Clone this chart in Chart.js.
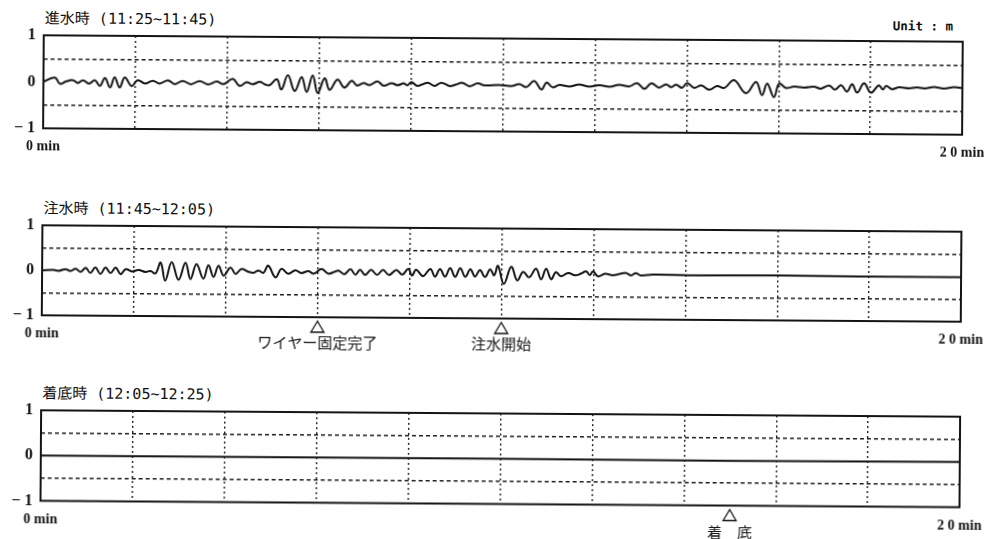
<!DOCTYPE html>
<html><head><meta charset="utf-8">
<script src="https://cdn.jsdelivr.net/npm/chart.js@4.4.1/dist/chart.umd.min.js"></script>
<style>
html,body{margin:0;padding:0;background:#fff;overflow:hidden;width:996px;height:539px;}
#wrap{position:absolute;left:0;top:0;width:996px;height:539px;transform:rotate(0.4deg);transform-origin:0 0;}
canvas{position:absolute;left:0;}
.title{position:absolute;left:45px;font-family:"DejaVu Sans Mono","Noto Sans CJK JP",monospace;font-size:15px;line-height:16px;color:#111;white-space:nowrap;}
.unit{position:absolute;left:893px;top:12px;font-family:"DejaVu Sans Mono",monospace;font-weight:bold;font-size:12.5px;line-height:16px;color:#111;white-space:nowrap;}
</style></head>
<body>
<div id="wrap">
  <div class="title" id="t1" style="top:10px"></div>
  <div class="unit" id="unit"></div>
  <canvas id="c1" width="996" height="175" style="top:0px"></canvas>
  <div class="title" id="t2" style="top:200px"></div>
  <canvas id="c2" width="996" height="175" style="top:190px"></canvas>
  <div class="title" id="t3" style="top:385px"></div>
  <canvas id="c3" width="996" height="164" style="top:375px"></canvas>
</div>
<script>
// ---- text ----
const panelTitles = ["進水時 (11:25~11:45)", "注水時 (11:45~12:05)", "着底時 (12:05~12:25)"];
const unitLabel = "Unit : m";
const xEndLabels = ["0 min", "2 0 min"];
const yLabels = ["1", "0", "− 1"];

// ---- panel 1 : 進水時 (time in min, displacement in m) ----
const p1Time = [
  0, 0.25, 0.36, 0.49, 0.64, 0.75, 0.86, 0.99, 1.12, 1.23,
  1.34, 1.45, 1.55, 1.66, 1.77, 1.92, 2.05, 2.21, 2.38, 2.53,
  2.71, 2.86, 3.03, 3.21, 3.40, 3.58, 3.77, 3.92, 4.12, 4.27,
  4.42, 4.55, 4.71, 4.82, 4.92, 5.08, 5.18, 5.32, 5.47, 5.62,
  5.73, 5.86, 5.97, 6.12, 6.23, 6.40, 6.55, 6.71, 6.82, 6.97,
  7.10, 7.27, 7.40, 7.58, 7.71, 7.84, 7.92, 8.01, 8.14, 8.36,
  8.51, 8.66, 8.84, 8.97, 9.12, 9.27, 9.45, 9.60, 9.92, 10.18,
  10.36, 10.51, 10.68, 10.84, 10.95, 11.08, 11.23, 11.45, 11.66, 11.88,
  12.10, 12.32, 12.53, 12.75, 12.92, 13.08, 13.23, 13.40, 13.55, 13.66,
  13.77, 13.90, 14.01, 14.16, 14.32, 14.49, 14.66, 14.82, 15.03, 15.29,
  15.51, 15.64, 15.75, 15.90, 16.01, 16.16, 16.34, 16.55, 16.77, 16.92,
  17.10, 17.23, 17.36, 17.49, 17.60, 17.71, 17.86, 18.01, 18.18, 18.27,
  18.34, 18.47, 18.62, 18.84, 19.01, 19.18, 19.38, 19.60, 19.82, 20.00
];
const p1Value = [
  0, 0.09, -0.04, 0.01, 0.04, -0.02, 0.04, -0.03, 0.04, -0.08,
  0.09, -0.11, 0.11, -0.11, 0.11, -0.08, 0.05, -0.02, 0.04, -0.02,
  0.05, -0.03, 0.04, -0.03, 0.04, -0.03, 0.03, -0.02, 0.09, -0.06,
  0.02, -0.02, 0.03, -0.02, -0.04, 0.09, -0.13, 0.18, -0.16, 0.14,
  -0.18, 0.18, -0.20, 0.12, -0.13, 0.09, -0.08, 0.07, -0.03, 0.02,
  -0.02, 0.06, -0.03, 0.02, -0.02, 0.02, -0.02, 0.05, -0.03, 0.04,
  -0.03, 0.04, -0.03, 0, 0.04, -0.03, 0.03, -0.01, 0, -0.02,
  0.02, -0.04, 0.09, -0.09, 0.06, -0.04, 0.01, -0.02, 0.02, -0.02,
  0.01, -0.02, 0.02, -0.01, 0.06, -0.06, 0.06, -0.03, 0.04, -0.02,
  0.03, -0.03, 0.07, -0.03, 0.02, -0.07, 0.01, -0.03, 0.14, -0.14,
  0.10, -0.18, 0.07, -0.22, 0.07, -0.02, 0.01, -0.01, 0.01, -0.03,
  0.04, -0.05, 0.05, -0.09, 0.07, -0.11, 0.09, -0.11, 0.05, -0.04,
  0.04, -0.03, 0.01, -0.01, 0.01, -0.01, 0.02, -0.01, 0.02, 0
];

// ---- panel 2 : 注水時 ----
const p2Time = [
  0, 0.25, 0.36, 0.51, 0.62, 0.73, 0.84, 0.95, 1.05, 1.16,
  1.27, 1.38, 1.49, 1.60, 1.71, 1.82, 1.95, 2.10, 2.25, 2.36,
  2.47, 2.58, 2.68, 2.82, 2.97, 3.12, 3.23, 3.36, 3.51, 3.62,
  3.73, 3.84, 3.95, 4.10, 4.21, 4.34, 4.49, 4.60, 4.71, 4.82,
  4.92, 5.08, 5.21, 5.36, 5.51, 5.64, 5.79, 5.92, 6.08, 6.23,
  6.36, 6.45, 6.58, 6.71, 6.82, 6.92, 7.03, 7.16, 7.29, 7.42,
  7.55, 7.71, 7.84, 7.97, 8.05, 8.14, 8.29, 8.45, 8.55, 8.66,
  8.77, 8.88, 8.99, 9.10, 9.21, 9.32, 9.42, 9.53, 9.64, 9.75,
  9.84, 9.92, 10.05, 10.21, 10.34, 10.47, 10.60, 10.75, 10.86, 10.97,
  11.08, 11.18, 11.29, 11.45, 11.60, 11.73, 11.84, 11.92, 11.99, 12.10,
  12.25, 12.42, 12.58, 12.71, 12.82, 12.92, 13.03, 13.29, 14.27, 16.01,
  17.75, 20.00
];
const p2Value = [
  0, 0.01, -0.01, 0.03, -0.01, 0.04, -0.03, 0.06, -0.05, 0.07,
  -0.07, 0.07, -0.05, 0.07, -0.07, 0.04, -0.01, 0.02, -0.02, 0,
  -0.05, 0.19, -0.21, 0.20, -0.19, 0.19, -0.17, 0.16, -0.16, 0.14,
  -0.12, 0.13, -0.09, 0.09, -0.05, 0.06, 0, -0.02, 0.03, -0.02,
  0.14, -0.12, 0.07, -0.04, 0.04, -0.02, 0.02, -0.03, 0.07, -0.03,
  0.01, 0.04, -0.04, 0.07, -0.05, 0.06, -0.05, 0.06, -0.05, 0.06,
  -0.05, 0.06, -0.04, 0.09, -0.06, 0.07, -0.07, 0.09, -0.08, 0.09,
  -0.08, 0.11, -0.08, 0.11, -0.08, 0.09, -0.07, 0.07, -0.08, 0.09,
  -0.04, 0.17, -0.23, 0.15, -0.15, 0.04, -0.08, 0.11, -0.12, 0.11,
  -0.12, 0.04, -0.05, 0.02, -0.03, 0.01, 0.06, -0.02, 0.06, -0.05,
  0.01, -0.02, 0.01, 0.03, -0.02, 0.03, -0.02, 0, -0.01, 0,
  -0.01, -0.01
];
const p2EventLabels = ["ワイヤー固定完了", "注水開始"];
const p2EventTime = [6, 10];

// ---- panel 3 : 着底時 ----
const p3Time = [0, 5, 10, 15, 20];
const p3Value = [0, 0, 0, -0.01, 0];
const p3EventLabels = ["着　底"];
const p3EventTime = [15];

document.getElementById('t1').textContent = panelTitles[0];
document.getElementById('t2').textContent = panelTitles[1];
document.getElementById('t3').textContent = panelTitles[2];
document.getElementById('unit').textContent = unitLabel;

const INK = '#141414';

function makeChart(id, times, values, bottomH, evLabels, evTimes, evTextOffset) {
  const pts = times.map((t, i) => ({ x: t, y: values[i] }));
  const framePlugin = {
    id: 'frame',
    afterDatasetsDraw(chart) {
      const { ctx, chartArea: a } = chart;
      ctx.save();
      ctx.setLineDash([]);
      ctx.strokeStyle = INK;
      ctx.lineWidth = 2;
      ctx.strokeRect(a.left, a.top, a.right - a.left, a.bottom - a.top);
      ctx.restore();
    }
  };
  const eventPlugin = {
    id: 'events',
    afterDraw(chart) {
      const { ctx, chartArea: a } = chart;
      const xs = chart.scales.x;
      ctx.save();
      evTimes.forEach((t, i) => {
        const px = xs.getPixelForValue(t);
        const top = a.bottom + 4;
        ctx.beginPath();
        ctx.moveTo(px, top);
        ctx.lineTo(px - 6.5, top + 11);
        ctx.lineTo(px + 6.5, top + 11);
        ctx.closePath();
        ctx.lineWidth = 1.3;
        ctx.strokeStyle = INK;
        ctx.stroke();
        ctx.font = '15px "Noto Sans CJK JP"';
        ctx.fillStyle = INK;
        ctx.textAlign = 'center';
        ctx.textBaseline = 'middle';
        ctx.fillText(evLabels[i], px, a.bottom + evTextOffset);
      });
      ctx.restore();
    }
  };
  return new Chart(document.getElementById(id), {
    type: 'line',
    data: { datasets: [{ data: pts, borderColor: INK, borderWidth: 2, pointRadius: 0,
      tension: 0.4, fill: false }] },
    options: {
      responsive: false, animation: false, devicePixelRatio: 1,
      layout: { padding: { top: 35, right: 33, left: 0, bottom: 0 } },
      plugins: { legend: { display: false }, tooltip: { enabled: false } },
      scales: {
        x: {
          type: 'linear', min: 0, max: 20,
          afterFit(s) { s.height = bottomH; },
          ticks: {
            stepSize: 2, autoSkip: false, maxRotation: 0, padding: 10, color: INK,
            font: { family: '"Liberation Serif"', size: 14, weight: 'bold' },
            callback: v => v === 0 ? xEndLabels[0] : (v === 20 ? xEndLabels[1] : '')
          },
          grid: {
            drawTicks: false, lineWidth: 1.4,
            color: c => (c.tick && (c.tick.value === 0 || c.tick.value === 20)) ? 'rgba(0,0,0,0)' : '#1e1e1e'
          },
          border: { display: false, dash: [2, 3] }
        },
        y: {
          min: -1, max: 1,
          afterFit(s) { s.width = 44; },
          ticks: {
            stepSize: 0.5, padding: 8, color: INK,
            font: { family: '"Liberation Serif"', size: 16, weight: 'bold' },
            callback: v => v === 1 ? yLabels[0] : (v === 0 ? yLabels[1] : (v === -1 ? yLabels[2] : ''))
          },
          grid: {
            drawTicks: false, lineWidth: 1.4,
            color: c => (c.tick && Math.abs(c.tick.value) === 0.5) ? '#1e1e1e' : 'rgba(0,0,0,0)'
          },
          border: { display: false, dash: [4, 3] }
        }
      }
    },
    plugins: [framePlugin, eventPlugin]
  });
}

makeChart('c1', p1Time, p1Value, 47, [], [], 0);
makeChart('c2', p2Time, p2Value, 50, p2EventLabels, p2EventTime, 25);
makeChart('c3', p3Time, p3Value, 38.5, p3EventLabels, p3EventTime, 27);
</script>
</body></html>
